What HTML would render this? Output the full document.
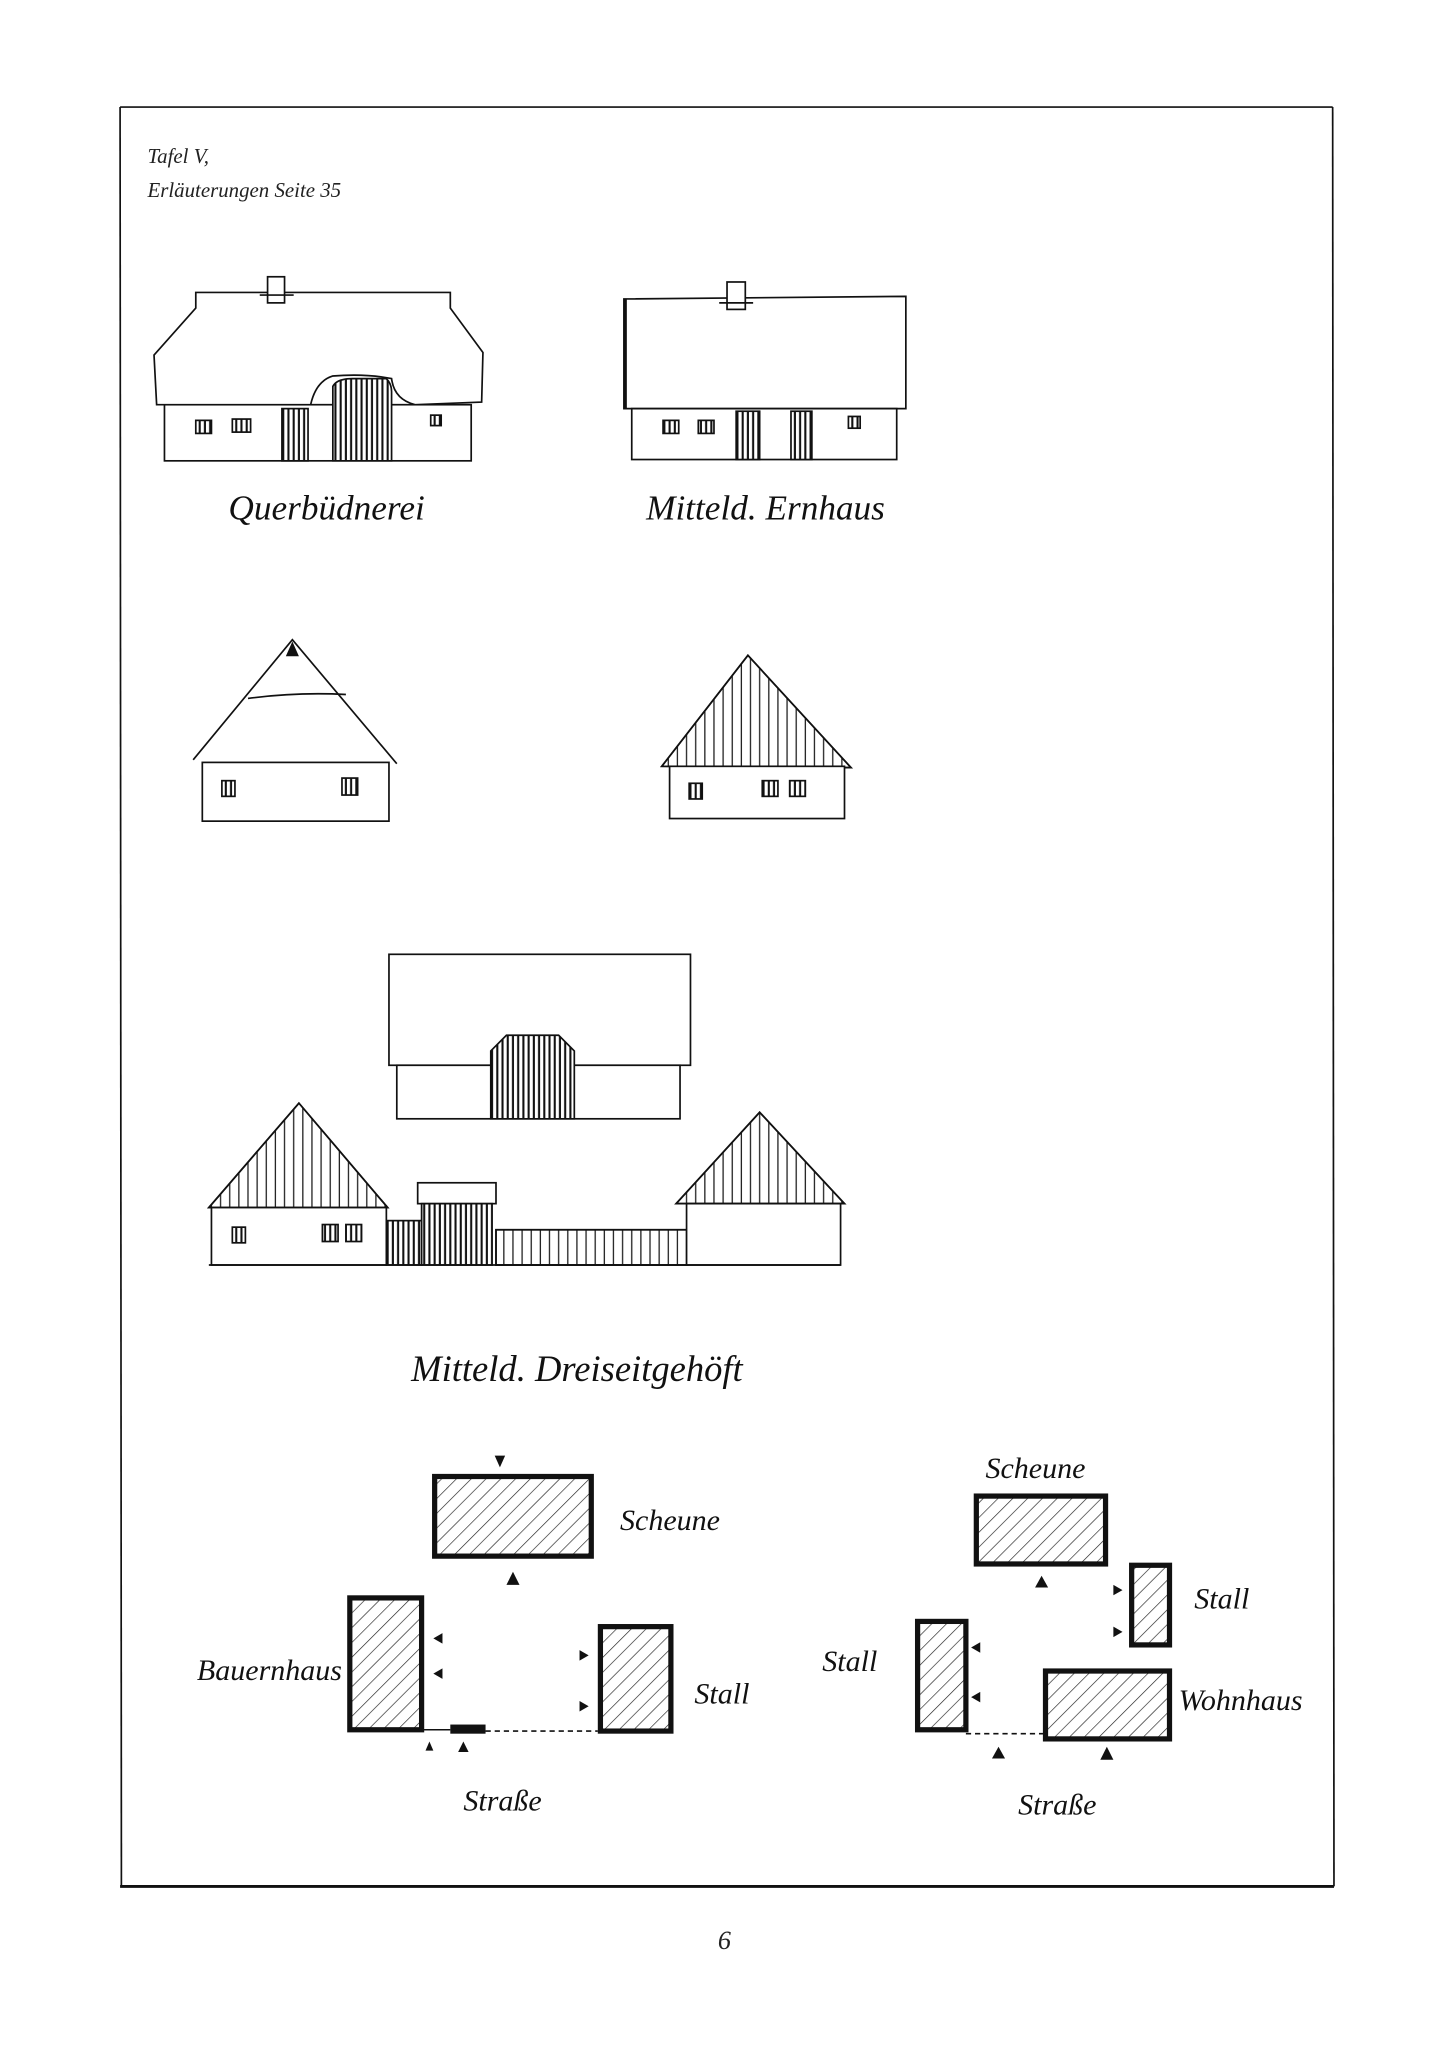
<!DOCTYPE html>
<html><head><meta charset="utf-8"><style>
html,body{margin:0;padding:0;background:#fff;}
svg{display:block;}
</style></head><body>
<svg width="1441" height="2047" viewBox="0 0 1104 1568" preserveAspectRatio="none" xmlns="http://www.w3.org/2000/svg">
<defs>
<pattern id="diag" patternUnits="userSpaceOnUse" width="8" height="8" patternTransform="rotate(45)">
<rect width="8" height="8" fill="#fff"/><line x1="0" y1="0" x2="0" y2="8" stroke="#222" stroke-width="1"/></pattern>
<pattern id="vert" patternUnits="userSpaceOnUse" width="4" height="10">
<rect width="4" height="10" fill="#fff"/><line x1="1" y1="0" x2="1" y2="10" stroke="#111" stroke-width="1.6"/></pattern>
<pattern id="vert2" patternUnits="userSpaceOnUse" width="7" height="10">
<rect width="7" height="10" fill="#fff"/><line x1="1" y1="0" x2="1" y2="10" stroke="#222" stroke-width="1"/></pattern>
</defs>
<rect width="1104" height="1568" fill="#fff"/>
<g fill="none" stroke="#111" stroke-width="1.3">
<line x1="92" y1="82" x2="1021" y2="82"/>
<line x1="92" y1="82" x2="93" y2="1445"/>
<line x1="1021" y1="82" x2="1022" y2="1445"/>
</g>
<line x1="92" y1="1445" x2="1022" y2="1445" stroke="#111" stroke-width="2.2"/>
<text x="113" y="125" font-family="Liberation Serif, serif" font-style="italic" font-size="16" fill="#222">Tafel V,</text>
<text x="113" y="151" font-family="Liberation Serif, serif" font-style="italic" font-size="16" fill="#222">Erläuterungen Seite 35</text>
<text x="550" y="1493" font-family="Liberation Serif, serif" font-style="italic" font-size="20" fill="#222">6</text>

<g fill="none" stroke="#111" stroke-width="1.3">
<!-- Querbuednerei -->
<rect x="126" y="310" width="235" height="43" fill="#fff"/>
<path d="M150,224 L345,224 L345,236 L370,270 L369,308 L318,310 Q302,306 300,290 Q280,286 255,288 Q242,292 238,310 L120,310 L118,272 L150,236 Z" fill="#fff"/>
<rect x="205" y="212" width="13" height="20" fill="#fff"/>
<line x1="199" y1="226" x2="225" y2="226"/>
<rect x="150" y="322" width="12" height="10" fill="url(#vert)"/>
<rect x="178" y="321" width="14" height="10" fill="url(#vert)"/>
<rect x="216" y="313" width="20" height="40" fill="url(#vert)"/>
<path d="M255,353 L255,296 Q258,290 270,290 L296,290 Q300,294 300,300 L300,353 Z" fill="url(#vert)"/>
<rect x="330" y="318" width="8" height="8" fill="url(#vert)"/>
<!-- Ernhaus -->
<path d="M478,229 L694,227 L694,313 L478,313 Z" fill="#fff"/>
<line x1="479" y1="229" x2="479" y2="313" stroke-width="2.5"/>
<rect x="557" y="216" width="14" height="21" fill="#fff"/>
<line x1="551" y1="232" x2="577" y2="232"/>
<rect x="484" y="313" width="203" height="39"/>
<rect x="508" y="322" width="12" height="10" fill="url(#vert)"/>
<rect x="535" y="322" width="12" height="10" fill="url(#vert)"/>
<rect x="564" y="315" width="18" height="37" fill="url(#vert)"/>
<rect x="606" y="315" width="16" height="37" fill="url(#vert)"/>
<rect x="650" y="319" width="9" height="9" fill="url(#vert)"/>
</g>
<text x="175" y="398" font-family="Liberation Serif, serif" font-style="italic" font-size="27" fill="#111">Querbüdnerei</text>
<text x="495" y="398" font-family="Liberation Serif, serif" font-style="italic" font-size="27" fill="#111">Mitteld. Ernhaus</text>

<g fill="none" stroke="#111" stroke-width="1.3">
<!-- gable left -->
<rect x="155" y="584" width="143" height="45" fill="#fff"/>
<path d="M148,582 L224,490 L304,585" fill="none"/>
<path d="M190,535 Q228,530 265,532"/>
<path d="M220,502 L224,493 L228,502 Z" fill="#111"/>
<rect x="170" y="598" width="10" height="12" fill="url(#vert)"/>
<rect x="262" y="596" width="12" height="13" fill="url(#vert)"/>
<!-- gable right -->
<path d="M573,502 L652,588 L507,587 Z" fill="url(#vert2)"/>
<path d="M573,502 L652,588 L507,587 Z"/>
<rect x="513" y="587" width="134" height="40" fill="#fff"/>
<rect x="528" y="600" width="10" height="12" fill="url(#vert)"/>
<rect x="584" y="598" width="12" height="12" fill="url(#vert)"/>
<rect x="605" y="598" width="12" height="12" fill="url(#vert)"/>

<!-- Dreiseitgehoeft barn -->
<rect x="298" y="731" width="231" height="85" fill="#fff"/>
<rect x="304" y="816" width="217" height="41" fill="#fff"/>
<path d="M376,857 L376,805 L388,793 L428,793 L440,805 L440,857 Z" fill="url(#vert)"/>
<!-- left house -->
<path d="M229,845 L297,925 L160,925 Z" fill="url(#vert2)"/>
<path d="M229,845 L297,925 L160,925 Z"/>
<rect x="162" y="925" width="134" height="44" fill="#fff"/>
<rect x="178" y="940" width="10" height="12" fill="url(#vert)"/>
<rect x="247" y="938" width="12" height="13" fill="url(#vert)"/>
<rect x="265" y="938" width="12" height="13" fill="url(#vert)"/>
<!-- gate -->
<rect x="296" y="935" width="27" height="34" fill="url(#vert)"/>
<rect x="320" y="906" width="60" height="16" fill="#fff"/>
<rect x="323" y="922" width="54" height="47" fill="url(#vert)"/>
<rect x="380" y="942" width="147" height="27" fill="url(#vert2)"/>
<rect x="380" y="942" width="147" height="27"/>
<!-- right -->
<path d="M582,852 L647,922 L518,922 Z" fill="url(#vert2)"/>
<path d="M582,852 L647,922 L518,922 Z"/>
<rect x="526" y="922" width="118" height="47" fill="#fff"/>
<line x1="160" y1="969" x2="644" y2="969"/>
</g>
<text x="315" y="1058" font-family="Liberation Serif, serif" font-style="italic" font-size="28" fill="#111">Mitteld. Dreiseitgehöft</text>

<!-- plans -->
<g stroke="#111" stroke-width="4" fill="url(#diag)">
<rect x="333" y="1131" width="120" height="61"/>
<rect x="268" y="1224" width="55" height="101"/>
<rect x="460" y="1246" width="54" height="80"/>
<rect x="748" y="1146" width="99" height="52"/>
<rect x="867" y="1199" width="29" height="61"/>
<rect x="703" y="1242" width="37" height="83"/>
<rect x="801" y="1280" width="95" height="52"/>
</g>
<rect x="345" y="1321" width="27" height="7" fill="#111"/>
<g stroke="#111" stroke-width="1.2" stroke-dasharray="4,3">
<line x1="372" y1="1326" x2="458" y2="1326"/>
<line x1="740" y1="1328" x2="801" y2="1328"/>
</g>
<line x1="323" y1="1325" x2="345" y2="1325" stroke="#111" stroke-width="1.2"/>
<g fill="#111">
<path d="M379,1115 L387,1115 L383,1124Z"/>
<path d="M388,1214 L398,1214 L393,1204Z"/>
<path d="M339,1251 L339,1259 L332,1255Z"/>
<path d="M339,1278 L339,1286 L332,1282Z"/>
<path d="M444,1264 L444,1272 L451,1268Z"/>
<path d="M444,1303 L444,1311 L451,1307Z"/>
<path d="M326,1341 L332,1341 L329,1334Z"/>
<path d="M351,1342 L359,1342 L355,1334Z"/>
<path d="M793,1216 L803,1216 L798,1207Z"/>
<path d="M853,1214 L853,1222 L860,1218Z"/>
<path d="M853,1246 L853,1254 L860,1250Z"/>
<path d="M751,1258 L751,1266 L744,1262Z"/>
<path d="M751,1296 L751,1304 L744,1300Z"/>
<path d="M760,1347 L770,1347 L765,1338Z"/>
<path d="M843,1348 L853,1348 L848,1338Z"/>
</g>
<g font-family="Liberation Serif, serif" font-style="italic" fill="#111" font-size="23">
<text x="475" y="1172">Scheune</text>
<text x="262" y="1287" text-anchor="end">Bauernhaus</text>
<text x="532" y="1305">Stall</text>
<text x="355" y="1387">Straße</text>
<text x="755" y="1132">Scheune</text>
<text x="915" y="1232">Stall</text>
<text x="630" y="1280">Stall</text>
<text x="903" y="1310">Wohnhaus</text>
<text x="780" y="1390">Straße</text>
</g>
</svg>
</body></html>
